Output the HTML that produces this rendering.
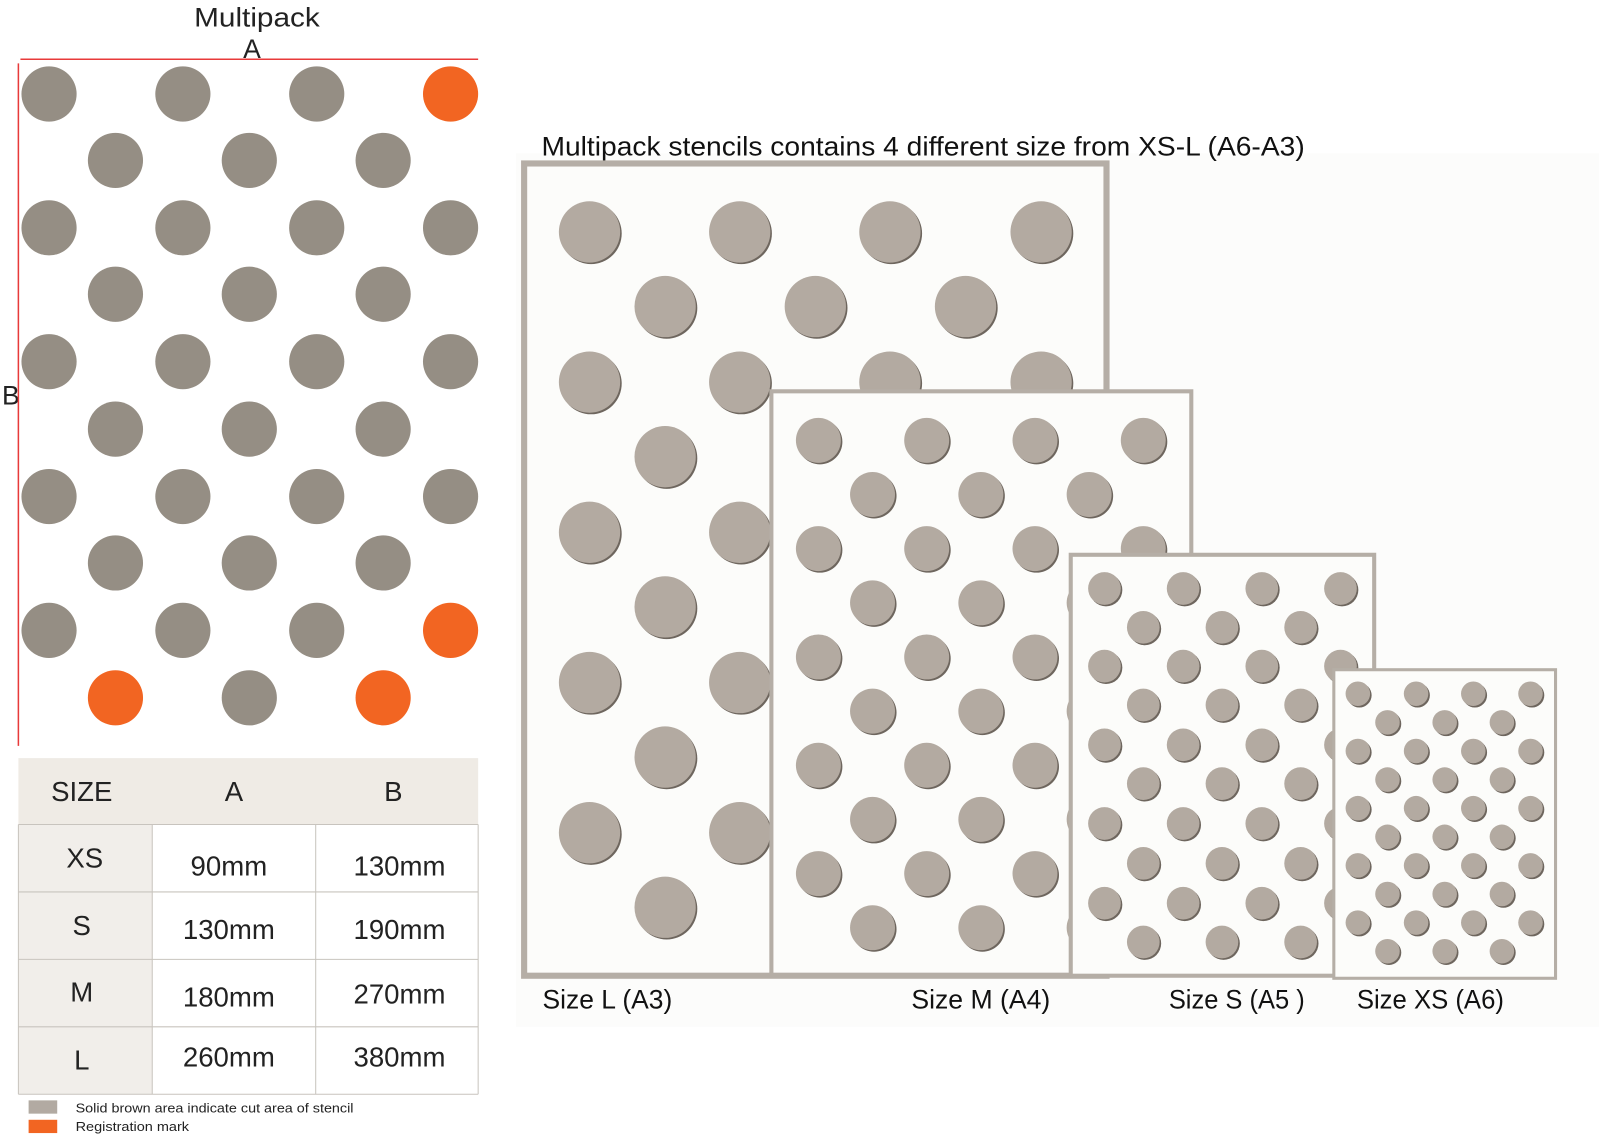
<!DOCTYPE html>
<html><head><meta charset="utf-8"><style>
html,body{margin:0;padding:0;background:#fff;}
svg{display:block;font-family:"Liberation Sans",sans-serif;}
</style></head><body>
<svg id="s" width="1600" height="1140" viewBox="0 0 1600 1140" xmlns="http://www.w3.org/2000/svg">
<g transform="scale(1.0217)">
<rect x="505" y="150" width="1060" height="855" fill="#fcfcfb"/>
<text x="190" y="26" font-size="26" fill="#222" textLength="123" lengthAdjust="spacingAndGlyphs">Multipack</text>
<text x="238" y="57" font-size="26" fill="#222">A</text>
<text x="2" y="396" font-size="26" fill="#222">B</text>
<line x1="20" y1="58" x2="468" y2="58" stroke="#e83a3a" stroke-width="1.5"/>
<line x1="18" y1="62" x2="18" y2="730" stroke="#e83a3a" stroke-width="1.5"/>
<g id="left"></g>
<rect x="18" y="742" width="450" height="65" fill="#efebe5"/>
<rect x="18" y="807" width="131" height="264" fill="#f1eeea"/>
<g stroke="#c8c4be" stroke-width="1" fill="none">
<line x1="18" y1="807" x2="468" y2="807"/>
<line x1="18" y1="873" x2="468" y2="873"/>
<line x1="18" y1="939" x2="468" y2="939"/>
<line x1="18" y1="1005" x2="468" y2="1005"/>
<line x1="18" y1="1071" x2="468" y2="1071"/>
<line x1="149" y1="807" x2="149" y2="1071"/>
<line x1="309" y1="807" x2="309" y2="1071"/>
<line x1="468" y1="807" x2="468" y2="1071"/>
<line x1="18" y1="807" x2="18" y2="1071"/>
</g>
<g font-size="27" fill="#222" text-anchor="middle">
<text x="80" y="784">SIZE</text><text x="229" y="784">A</text><text x="385" y="784">B</text>
<text x="83" y="849">XS</text><text x="224" y="857">90mm</text><text x="391" y="857">130mm</text>
<text x="80" y="915">S</text><text x="224" y="919">130mm</text><text x="391" y="919">190mm</text>
<text x="80" y="980">M</text><text x="224" y="985">180mm</text><text x="391" y="982">270mm</text>
<text x="80" y="1047">L</text><text x="224" y="1044">260mm</text><text x="391" y="1044">380mm</text>
</g>
<rect x="28" y="1077" width="28" height="13" fill="#b2aaa2"/>
<rect x="28" y="1096" width="28" height="13" fill="#f26522"/>
<text x="74" y="1089" font-size="13" fill="#222" textLength="272" lengthAdjust="spacingAndGlyphs">Solid brown area indicate cut area of stencil</text>
<text x="74" y="1107" font-size="13" fill="#222" textLength="111" lengthAdjust="spacingAndGlyphs">Registration mark</text>
<text x="530" y="152" font-size="26" fill="#111" textLength="747" lengthAdjust="spacingAndGlyphs">Multipack stencils contains 4 different size from XS-L (A6-A3)</text>
<g id="right"></g>
<g font-size="26" fill="#111">
<text x="531" y="987" textLength="127" lengthAdjust="spacingAndGlyphs">Size L (A3)</text>
<text x="892" y="987" textLength="136" lengthAdjust="spacingAndGlyphs">Size M (A4)</text>
<text x="1144" y="987" textLength="133" lengthAdjust="spacingAndGlyphs">Size S (A5 )</text>
<text x="1328" y="987" textLength="144" lengthAdjust="spacingAndGlyphs">Size XS (A6)</text>
</g>
</g>
</svg>
<script>
var NS="http://www.w3.org/2000/svg";
function el(p,t,a){var e=document.createElementNS(NS,t);for(var k in a)e.setAttribute(k,a[k]);p.appendChild(e);return e;}
var L=document.getElementById('left');
var ev=[48,179,310,441],od=[113,244,375],ry=[92,157,223,288,354,420,486,551,617,683];
var orange={"441,92":1,"441,617":1,"113,683":1,"375,683":1};
ry.forEach(function(y,i){(i%2?od:ev).forEach(function(x){el(L,'circle',{cx:x,cy:y,r:27,fill:orange[x+","+y]?"#f26522":"#958e84"});});});
var R=document.getElementById('right');
var panels=[
 {x:510,y:157,w:576,h:801,b:6,r:30,ev:[577,724,871,1019],od:[651,798,945],ry:[227,300,374,447,521,594,668,741,815,888]},
 {x:753,y:381,w:415,h:575,b:4,r:22,ev:[801,907,1013,1119],od:[854,960,1066],ry:[431,484,537,590,643,696,749,802,855,908]},
 {x:1046,y:541,w:301,h:416,b:4,r:16,ev:[1081,1158,1235,1312],od:[1119,1196,1273],ry:[576,614,652,690,729,767,806,845,884,922]},
 {x:1304,y:654,w:220,h:305,b:3,r:12,ev:[1329,1386,1442,1498],od:[1358,1414,1470],ry:[679,707,735,763,791,819,847,875,903,931]}
];
panels.forEach(function(p){
 el(R,'rect',{x:p.x+p.b/2,y:p.y+p.b/2,width:p.w-p.b,height:p.h-p.b,fill:"#fcfcfa",stroke:"#b5aea6","stroke-width":p.b});
 p.ry.forEach(function(y,i){(i%2?p.od:p.ev).forEach(function(x){
  el(R,'circle',{cx:x+1.5,cy:y+1.5,r:p.r,fill:"#6e665e"});
  el(R,'circle',{cx:x,cy:y,r:p.r,fill:"#b3aaa1"});
 });});
});
</script>
</body></html>
